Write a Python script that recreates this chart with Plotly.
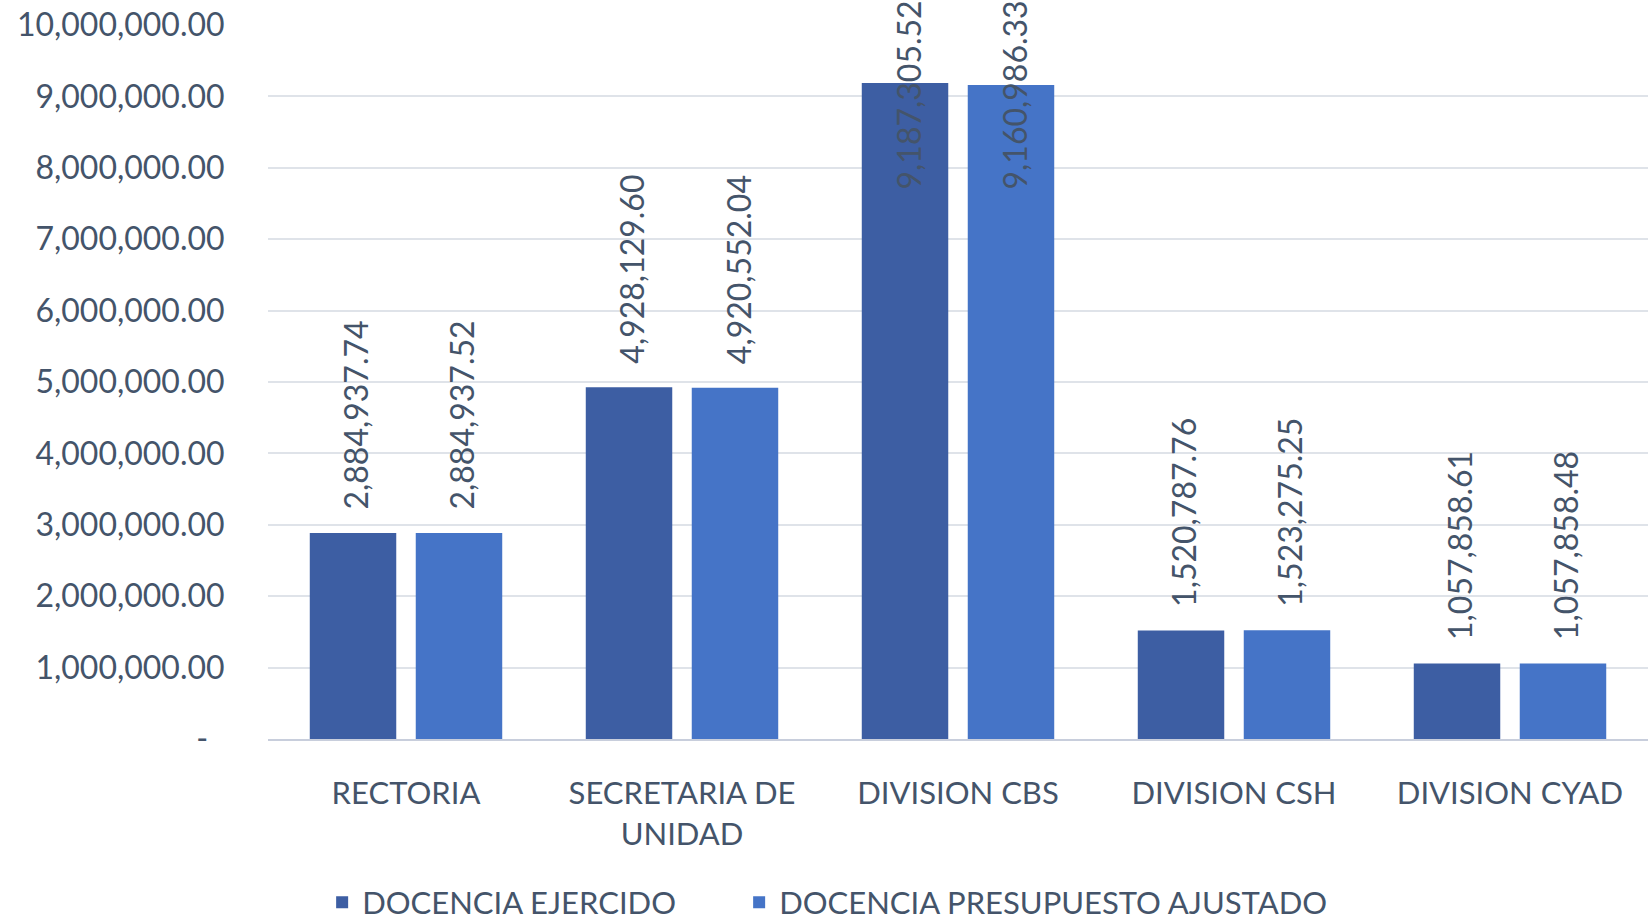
import plotly.graph_objects as go

categories = ["RECTORIA", "SECRETARIA DE<br>UNIDAD", "DIVISION CBS", "DIVISION CSH", "DIVISION CYAD"]
ejercido = [2884937.74, 4928129.60, 9187305.52, 1520787.76, 1057858.61]
presupuesto = [2884937.52, 4920552.04, 9160986.33, 1523275.25, 1057858.48]
series_names = ["DOCENCIA EJERCIDO", "DOCENCIA PRESUPUESTO AJUSTADO"]
tick_values = [0, 1e6, 2e6, 3e6, 4e6, 5e6, 6e6, 7e6, 8e6, 9e6, 10e6]
tick_labels = ["-\u00a0\u00a0"] + [f"{v:,.2f}" for v in tick_values[1:]]

TEXT = "#44546A"
FONT = "Lato"
YMAX = 10e6
LABEL_EXTENT = 3.3e6  # approximate vertical extent of a rotated label in data units

colors = ["#3D5EA3", "#4574C7"]
legend_widths = [372, None]

fig = go.Figure()
for name, vals, col, lw in zip(series_names, [ejercido, presupuesto], colors, legend_widths):
    fig.add_trace(go.Bar(
        x=categories, y=vals, name=name,
        marker=dict(color=col, line=dict(width=0)),
        hoverinfo="skip",
        legendwidth=lw,
    ))

annotations = []
slot_shift = 53
for si, vals in enumerate([ejercido, presupuesto]):
    xs = -slot_shift if si == 0 else slot_shift
    for c, v in zip(categories, vals):
        txt = f"{v:,.2f}"
        if v + LABEL_EXTENT > YMAX:
            annotations.append(dict(
                x=c, xref="x", y=1, yref="paper", yanchor="top", yshift=26,
                xshift=xs + 3, text=txt, textangle=-90, showarrow=False,
                font=dict(family=FONT, size=32, color=TEXT),
            ))
        else:
            annotations.append(dict(
                x=c, xref="x", y=v, yref="y", yanchor="bottom", yshift=21,
                xshift=xs + 3, text=txt, textangle=-90, showarrow=False,
                font=dict(family=FONT, size=32, color=TEXT),
            ))

fig.update_layout(
    width=1652, height=921,
    margin=dict(l=268, r=4, t=25, b=182, autoexpand=False),
    paper_bgcolor="white", plot_bgcolor="white",
    barmode="group", bargap=0.232, bargroupgap=0.184,
    font=dict(family=FONT, color=TEXT),
    showlegend=True,
    legend=dict(
        orientation="h", xref="container", yref="container",
        x=0.195, xanchor="left", y=0.02, yanchor="middle",
        font=dict(family=FONT, size=31, color=TEXT),
        traceorder="normal",
    ),
    annotations=annotations,
)
fig.update_yaxes(
    range=[0, YMAX], tickvals=tick_values, ticktext=tick_labels,
    showgrid=True, gridcolor="#DFE3E9", gridwidth=1.5,
    zeroline=False, showline=False,
    ticks="outside", ticklen=36, tickcolor="rgba(0,0,0,0)",
    tickfont=dict(family=FONT, size=32, color=TEXT),
)
fig.update_xaxes(
    showgrid=False, zeroline=False,
    showline=True, linecolor="rgba(190,198,214,0.85)", linewidth=2, layer="above traces",
    ticks="outside", ticklen=26, tickcolor="rgba(0,0,0,0)",
    tickfont=dict(family=FONT, size=31, color=TEXT),
)

fig.write_html(
    "out.html",
    config={"displayModeBar": False},
    post_script="document.body.style.margin='0px';document.body.style.overflow='hidden';",
)
